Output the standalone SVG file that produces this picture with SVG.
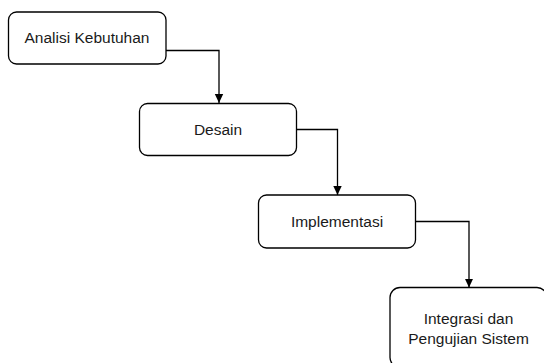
<svg xmlns="http://www.w3.org/2000/svg" width="544" height="363" viewBox="0 0 544 363">
<style>
.box{fill:#fff;stroke:#000;stroke-width:1.3}
.lbl{font-family:"Liberation Sans",Arial,sans-serif;font-size:15.5px;fill:#1a1a1a;text-anchor:middle}
.edge{fill:none;stroke:#000;stroke-width:1.3}
</style>
<defs>
<marker id="arr" markerWidth="10" markerHeight="10" refX="9" refY="5" orient="auto" markerUnits="userSpaceOnUse">
<path d="M0,0.8 L9,5 L0,9.2 Z" fill="#000"/>
</marker>
</defs>
<rect width="544" height="363" fill="#fff"/>
<g id="connectors">
<path class="edge" d="M166,50.5 H219 V103" marker-end="url(#arr)"/>
<path class="edge" d="M297,129.5 H337.5 V195" marker-end="url(#arr)"/>
<path class="edge" d="M416,221.5 H469 V287.5" marker-end="url(#arr)"/>
</g>
<g id="analisi">
<rect class="box" x="8.5" y="12" width="157.5" height="52" rx="8"/>
<text class="lbl" x="87" y="43">Analisi Kebutuhan</text>
</g>
<g id="desain">
<rect class="box" x="139.5" y="103.5" width="157" height="52" rx="8"/>
<text class="lbl" x="218" y="135">Desain</text>
</g>
<g id="implementasi">
<rect class="box" x="258.5" y="195" width="157" height="53" rx="8"/>
<text class="lbl" x="337" y="227">Implementasi</text>
</g>
<g id="integrasi">
<rect class="box" x="390" y="287.5" width="157" height="80" rx="10"/>
<text class="lbl" x="468.5" y="324">Integrasi dan</text>
<text class="lbl" x="468.5" y="343.5">Pengujian Sistem</text>
</g>
</svg>
